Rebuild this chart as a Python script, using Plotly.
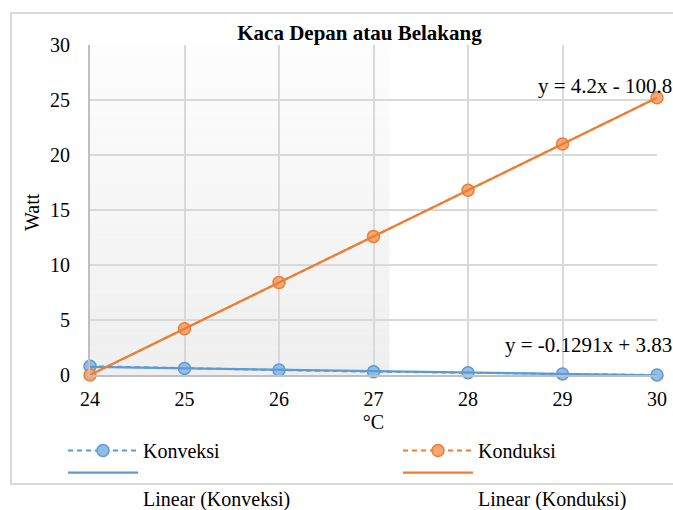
import numpy as np
import plotly.graph_objects as go

# ---- data ----
suhu = [24, 25, 26, 27, 28, 29, 30]
konveksi = [0.8, 0.6, 0.45, 0.3, 0.2, 0.1, 0.0]
konduksi = [0.0, 4.2, 8.4, 12.6, 16.8, 21.0, 25.2]
eq_konveksi = "y = -0.1291x + 3.83"
eq_konduksi = "y = 4.2x - 100.8"
title_text = "Kaca Depan atau Belakang"
x_title = "°C"
y_title = "Watt"
y_ticks = [0, 5, 10, 15, 20, 25, 30]

BLUE = "#5B9BD5"
ORANGE = "#ED7D31"
FONT = "Liberation Serif, Times New Roman, serif"

W, H = 673, 510
L, T = 90, 45
pw, ph = 567, 330
R = W - L - pw
B = H - T - ph


def px_x(p):  # reference pixel x -> paper x
    return (p - L) / pw


def px_y(p):  # reference pixel y -> paper y
    return (T + ph - p) / ph


fig = go.Figure()

# data series (dashed, with markers)
fig.add_trace(go.Scatter(
    x=suhu, y=konveksi, name="Konveksi", mode="lines+markers",
    line=dict(color=BLUE, width=2, dash="5px,4px"),
    marker=dict(symbol="circle", size=12, color="#94BDE5",
                line=dict(color=BLUE, width=1.5)),
    cliponaxis=False, legend="legend"))
fig.add_trace(go.Scatter(
    x=suhu, y=konduksi, name="Konduksi", mode="lines+markers",
    line=dict(color=ORANGE, width=2, dash="5px,4px"),
    marker=dict(symbol="circle", size=12, color="#F4A674",
                line=dict(color=ORANGE, width=1.5)),
    cliponaxis=False, legend="legend2"))

# linear trendlines
xs = np.array(suhu, dtype=float)
for vals, col, nm, lg in [(konveksi, BLUE, "Linear (Konveksi)", "legend3"),
                          (konduksi, ORANGE, "Linear (Konduksi)", "legend4")]:
    m, c = np.polyfit(xs, np.array(vals, dtype=float), 1)
    fx = np.array([xs.min(), xs.max()])
    fig.add_trace(go.Scatter(
        x=fx, y=m * fx + c, name="<br>" + nm, mode="lines",
        line=dict(color=col, width=2.25), cliponaxis=False, legend=lg))

# shaded gradient region (background artifact)
n_bands = 24
x_shade_end = 27.17
for i in range(n_bands):
    t = i / (n_bands - 1)
    g = int(round(253 - t * 14))
    y0 = 30 - 30 * i / n_bands
    y1 = 30 - 30 * (i + 1) / n_bands
    fig.add_shape(type="rect", xref="x", yref="y", x0=24, x1=x_shade_end,
                  y0=y1, y1=y0, fillcolor=f"rgb({g},{g},{g})",
                  line=dict(width=0), layer="below")

# outer chart border (reference pixels: x 11.., y 13..484)
fig.add_shape(type="rect", xref="paper", yref="paper",
              x0=px_x(11), x1=px_x(720), y0=px_y(484), y1=px_y(13),
              line=dict(color="#d9d9d9", width=2), fillcolor="rgba(0,0,0,0)",
              layer="below")

# trendline equations
fig.add_annotation(x=28.72, y=26.25, xref="x", yref="y", text=eq_konduksi,
                   showarrow=False, xanchor="left", yanchor="middle",
                   font=dict(family=FONT, size=21, color="black"))
fig.add_annotation(x=28.37, y=2.73, xref="x", yref="y", text=eq_konveksi,
                   showarrow=False, xanchor="left", yanchor="middle",
                   font=dict(family=FONT, size=21, color="black"))

# y-axis title
fig.add_annotation(x=px_x(32), y=px_y(212), xref="paper", yref="paper",
                   text=y_title, textangle=-90, showarrow=False,
                   xanchor="center", yanchor="middle",
                   font=dict(family=FONT, size=20, color="black"))

legend_common = dict(orientation="v", xref="container", yref="container",
                     xanchor="left", yanchor="top", itemwidth=70,
                     valign="top", tracegroupgap=0, bgcolor="rgba(0,0,0,0)",
                     font=dict(family=FONT, size=20, color="black"))

row1_top = 431
row2_top = 453

fig.update_layout(
    width=W, height=H,
    margin=dict(l=L, r=R, t=T, b=B, autoexpand=False),
    paper_bgcolor="white", plot_bgcolor="white",
    font=dict(family=FONT, size=20, color="black"),
    title=dict(text="<b>" + title_text + "</b>", xref="container", yref="container",
               x=359.5 / W, xanchor="center", y=1 - 33 / H,
               yanchor="middle",
               font=dict(family=FONT, size=21, color="black")),
    xaxis=dict(range=[24, 30], dtick=1, tick0=24, showgrid=True,
               gridcolor="#d9d9d9", gridwidth=1.5, showline=True,
               linecolor="#bfbfbf", linewidth=2, zeroline=False, ticks="",
               ticklabelstandoff=5,
               title=dict(text=x_title, standoff=6,
                          font=dict(family=FONT, size=20))),
    yaxis=dict(range=[0, 30], tickvals=y_ticks, showgrid=True,
               gridcolor="#d9d9d9", gridwidth=1.5, showline=True,
               linecolor="#bfbfbf", linewidth=2, zeroline=False, ticks="",
               ticklabelstandoff=14),
    legend=dict(legend_common, x=63 / W, y=1 - row1_top / H),
    legend2=dict(legend_common, x=398 / W, y=1 - row1_top / H),
    legend3=dict(legend_common, x=63 / W, y=1 - row2_top / H),
    legend4=dict(legend_common, x=398 / W, y=1 - row2_top / H),
    showlegend=True,
)

fig.write_html("out.html", config={"displayModeBar": False},
               post_script="document.body.style.margin='0';"
                           "document.body.style.overflow='hidden';")
